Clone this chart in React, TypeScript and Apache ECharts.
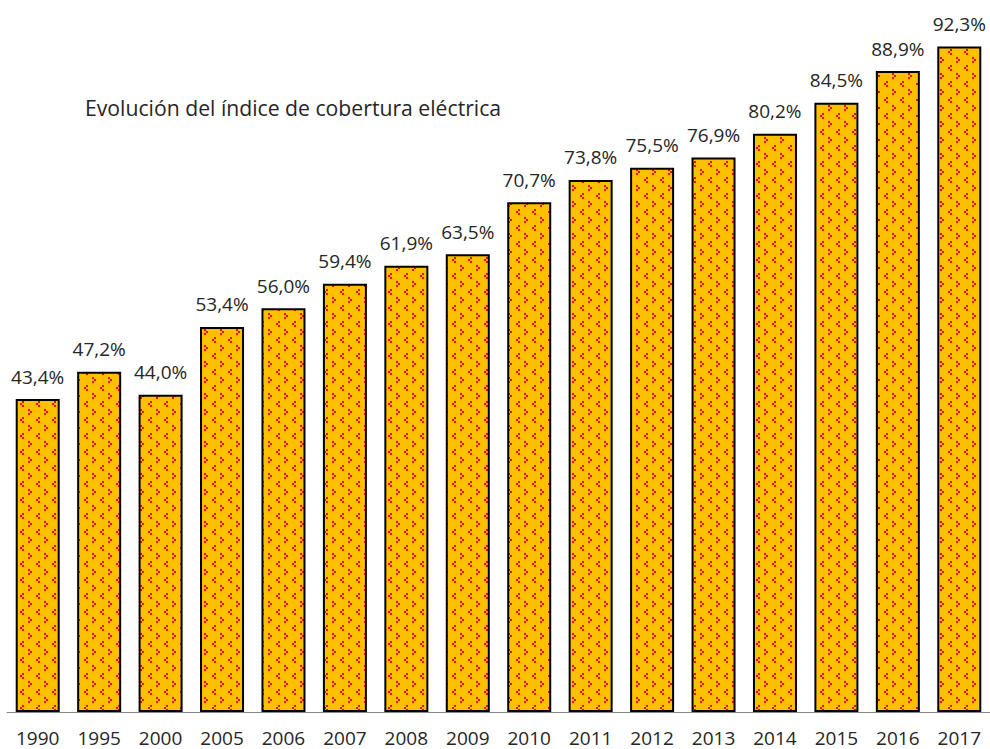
import React, { useEffect, useRef } from "react";
import * as echarts from "echarts";

const years = ["1990", "1995", "2000", "2005", "2006", "2007", "2008", "2009", "2010", "2011", "2012", "2013", "2014", "2015", "2016", "2017"];
const coverage = [43.4, 47.2, 44.0, 53.4, 56.0, 59.4, 61.9, 63.5, 70.7, 73.8, 75.5, 76.9, 80.2, 84.5, 88.9, 92.3];
const titleText = "Evolución del índice de cobertura eléctrica";

function makePattern(): HTMLCanvasElement {
  const c = document.createElement("canvas");
  c.width = 16;
  c.height = 16;
  const ctx = c.getContext("2d")!;
  ctx.fillStyle = "#FFC000";
  ctx.fillRect(0, 0, 16, 16);
  ctx.fillStyle = "#FF0000";
  const lt = (x: number, y: number) => {
    ctx.fillRect(x + 2, y, 2, 2);
    ctx.fillRect(x, y + 2, 2, 2);
    ctx.fillRect(x + 2, y + 4, 2, 2);
  };
  const gt = (x: number, y: number) => {
    ctx.fillRect(x, y, 2, 2);
    ctx.fillRect(x + 2, y + 2, 2, 2);
    ctx.fillRect(x, y + 4, 2, 2);
  };
  lt(4, 1);
  gt(12, 9);
  return c;
}

export default function App() {
  const ref = useRef<HTMLDivElement>(null);
  useEffect(() => {
    if (!ref.current) return;
    const chart = echarts.init(ref.current, null, { renderer: "svg" });
    const pattern = makePattern();
    chart.setOption({
      animation: false,
      backgroundColor: "#ffffff",
      textStyle: { fontFamily: "Open Sans" },
      graphic: [
        {
          type: "text",
          x: 85,
          y: 107,
          style: {
            text: titleText,
            fontFamily: "Open Sans",
            fontSize: 21.2,
            fill: "#262626",
            verticalAlign: "middle",
            align: "left",
          },
        },
      ],
      grid: { left: 7, width: 985, top: 0, bottom: 37, containLabel: false },
      xAxis: {
        type: "category",
        data: years,
        axisTick: { show: false },
        axisLine: { show: true, lineStyle: { color: "#888888", width: 1 } },
        axisLabel: { interval: 0, fontSize: 19, lineHeight: 18, color: "#262626", margin: 17, fontFamily: "Open Sans" },
      },
      yAxis: {
        type: "value",
        min: 0,
        max: 98.75,
        show: false,
        splitLine: { show: false },
      },
      series: [
        {
          type: "bar",
          data: coverage,
          barWidth: 44,
          itemStyle: {
            color: { image: pattern, repeat: "repeat", imageWidth: 16, imageHeight: 16 },
            borderColor: "#000000",
            borderWidth: 2,
          },
          label: {
            show: true,
            position: "top",
            distance: 13,
            fontSize: 19,
            lineHeight: 19,
            color: "#262626",
            fontFamily: "Open Sans",
            formatter: (p: any) => p.value.toFixed(1).replace(".", ",") + "%",
          },
        },
      ],
    });
    return () => chart.dispose();
  }, []);
  return <div ref={ref} style={{ width: 990, height: 749, position: "fixed", left: 0, top: 0 }} />;
}
